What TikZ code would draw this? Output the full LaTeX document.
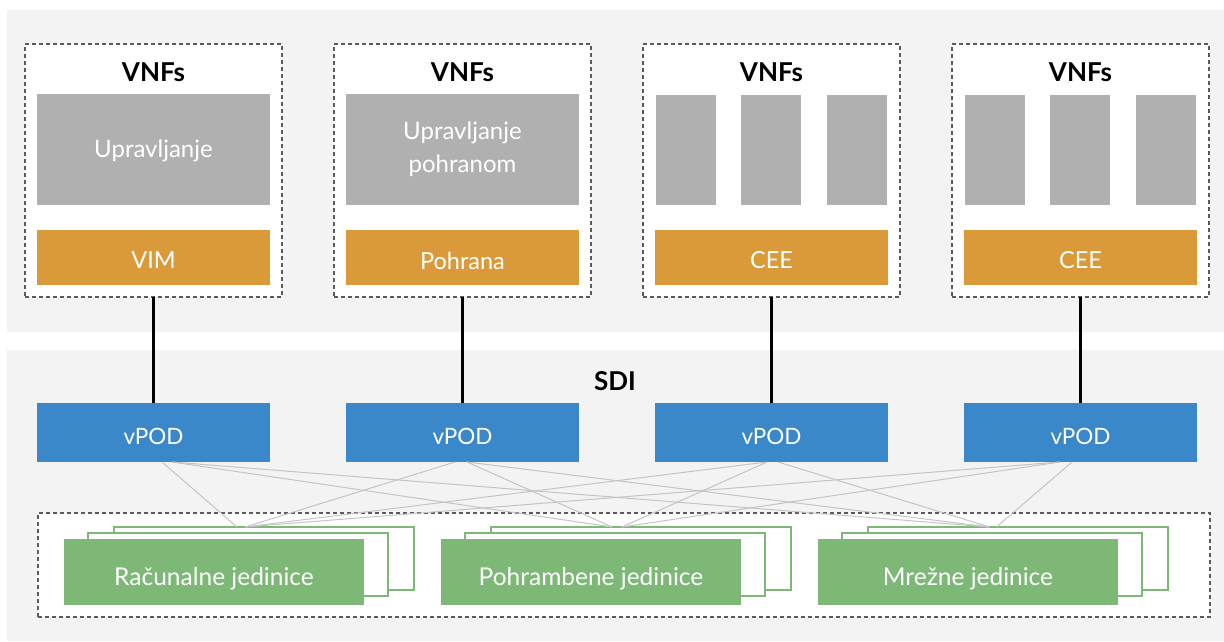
\documentclass[tikz,border=0pt]{standalone}
\usepackage{fontspec}
\setmainfont{Lato}
\usetikzlibrary{calc}
\definecolor{panel}{HTML}{F3F3F3}
\definecolor{vnfgray}{HTML}{B0B0B0}
\definecolor{orng}{HTML}{DB9A3A}
\definecolor{vblue}{HTML}{3A87C9}
\definecolor{grn}{HTML}{7DB877}
\definecolor{dashc}{HTML}{5A5A5A}
\definecolor{linkc}{HTML}{C4C4C4}
\newcommand{\dn}[2]{\raisebox{-#1pt}[\height][\depth]{#2}}
\begin{document}
\begin{tikzpicture}[x=1pt,y=-1pt,
  every node/.style={inner sep=0pt, outer sep=0pt},
  panelbox/.style={fill=panel, draw=none},
  dashbox/.style={draw=dashc, fill=white, dash pattern=on 4pt off 3pt, line width=1.1pt, anchor=north west},
  vnfblock/.style={fill=vnfgray, anchor=north west, text=white, font=\fontsize{24}{33}\selectfont, align=center},
  orblock/.style={fill=orng, anchor=north west, text=white, font=\fontsize{23.5}{27}\selectfont, minimum width=233pt, minimum height=55pt},
  vpod/.style={fill=vblue, anchor=north west, text=white, font=\fontsize{22.5}{26}\selectfont, minimum width=233pt, minimum height=59pt},
  title/.style={font=\fontsize{26}{30}\selectfont\bfseries, text=black},
  unitfront/.style={fill=grn, anchor=north west, text=white, font=\fontsize{24.5}{28}\selectfont, minimum width=300pt, minimum height=66pt},
  unitback/.style={fill=white, draw=grn, line width=1.6pt, anchor=north west, minimum width=300pt, minimum height=63pt},
  vline/.style={black, line width=2.3pt},
  link/.style={linkc, line width=1pt}]
\useasboundingbox (0,0) rectangle (1224,642);
\fill[white] (0,0) rectangle (1224,642);
% panels
\node[panelbox, anchor=north west, minimum width=1217pt, minimum height=322pt] (top) at (7,10) {};
\node[panelbox, anchor=north west, minimum width=1217pt, minimum height=291pt] (bottom) at (7,350) {};
% VNF boxes
\foreach \i/\x in {1/25,2/334,3/643,4/952}{
  \node[dashbox, minimum width=257pt, minimum height=253pt] (d\i) at (\x,44) {};
  \node[title] (t\i) at (\x+128.5,72) {VNFs};
  \node[vpod] (v\i) at (\x+12,403) {\dn{3.5}{vPOD}};
}
\node[vnfblock, minimum width=233pt, minimum height=111pt] (g1) at (37,94) {\dn{1.5}{Upravljanje}};
\node[vnfblock, minimum width=233pt, minimum height=111pt] (g2) at (346,94) {Upravljanje\\pohranom};
\foreach \i/\x in {3/643,4/952}{
  \node[vnfblock, minimum width=60pt, minimum height=110pt] (g\i a) at (\x+13,95) {};
  \node[vnfblock, minimum width=60pt, minimum height=110pt] (g\i b) at (\x+98,95) {};
  \node[vnfblock, minimum width=60pt, minimum height=110pt] (g\i c) at (\x+184,95) {};
}
\node[orblock] (o1) at (37,230) {\dn{3}{VIM}};
\node[orblock] (o2) at (346,230) {\dn{3}{Pohrana}};
\node[orblock] (o3) at (655,230) {\dn{3}{CEE}};
\node[orblock] (o4) at (964,230) {\dn{3}{CEE}};
\node[font=\fontsize{26}{30}\selectfont\bfseries] (sdi) at (615,381) {SDI};
% vertical connectors
\foreach \i in {1,2,3,4}{ \draw[vline] (d\i.south) -- (v\i.north); }
% hardware box
\node[dashbox, minimum width=1172pt, minimum height=104pt] (hw) at (38,513) {};
\foreach \j/\g/\txt in {1/64/{Računalne jedinice},2/441/{Pohrambene jedinice},3/818/{Mrežne jedinice}}{
  \node[unitback] (u\j c) at (\g+50,527) {};
  \node[unitback] (u\j b) at (\g+24,533) {};
  \node[unitfront] (u\j a) at (\g,539) {\dn{7}{\txt}};
}
% link points
\coordinate (v1l) at ([xshift=8.5pt]v1.south);
\coordinate (v1r) at ([xshift=18.5pt]v1.south);
\coordinate (v2l) at ([xshift=-7.5pt]v2.south);
\coordinate (v2r) at ([xshift=4.5pt]v2.south);
\coordinate (v3l) at ([xshift=-4.5pt]v3.south);
\coordinate (v3r) at ([xshift=6.5pt]v3.south);
\coordinate (v4l) at ([xshift=-20.5pt]v4.south);
\coordinate (v4r) at ([xshift=-8.5pt]v4.south);
\coordinate (u1A) at ([xshift=-27pt]u1c.north);
\coordinate (u1B) at ([xshift=-19pt]u1c.north);
\coordinate (u2A) at ([xshift=-29pt]u2c.north);
\coordinate (u2B) at ([xshift=-19pt]u2c.north);
\coordinate (u3A) at ([xshift=-28.5pt]u3c.north);
\coordinate (u3B) at ([xshift=-21.5pt]u3c.north);
\draw[link] (v1l) -- (u1A);
\draw[link] (v1r) -- (u2A);
\draw[link] (v1r) -- (u3A);
\draw[link] (v2l) -- (u1B);
\draw[link] (v2r) -- (u2A);
\draw[link] (v2r) -- (u3A);
\draw[link] (v3l) -- (u1B);
\draw[link] (v3l) -- (u2B);
\draw[link] (v3r) -- (u3A);
\draw[link] (v4l) -- (u1B);
\draw[link] (v4l) -- (u2B);
\draw[link] (v4r) -- (u3B);
\end{tikzpicture}
\end{document}
